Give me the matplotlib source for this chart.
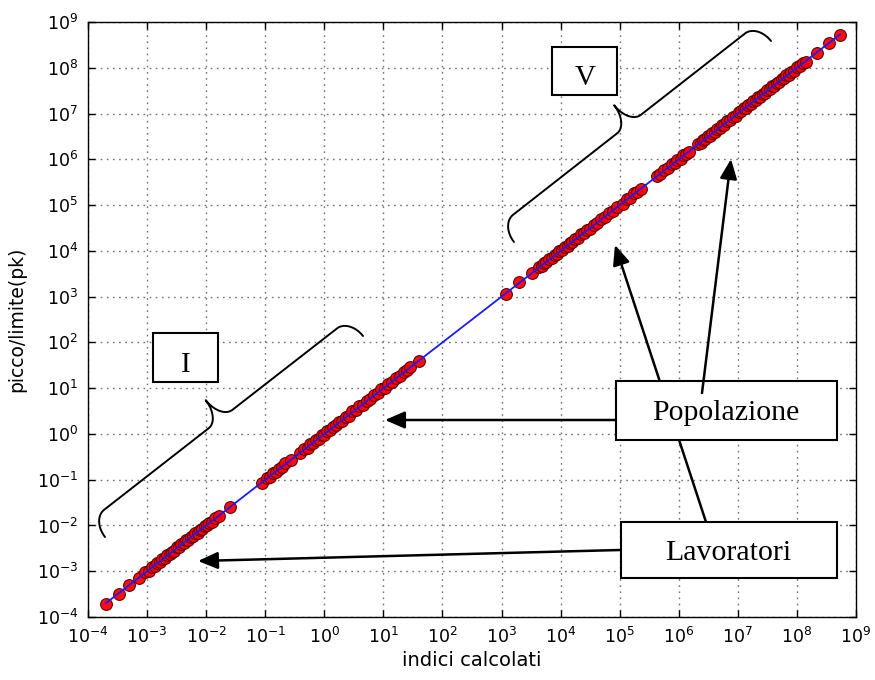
import numpy as np
import matplotlib
matplotlib.use("Agg")
import matplotlib.pyplot as plt
from matplotlib.lines import Line2D
from matplotlib.patches import Rectangle, FancyArrowPatch

# ---- data -------------------------------------------------------------
x_values = [
    # low group
    2.0e-4, 3.3e-4, 5.0e-4, 7.2e-4, 9.3e-4, 1.07e-3, 1.2e-3, 1.35e-3, 1.5e-3, 1.65e-3,
    1.8e-3, 2.0e-3, 2.2e-3, 2.4e-3, 2.6e-3, 2.9e-3, 3.2e-3, 3.5e-3, 3.8e-3, 4.2e-3,
    4.6e-3, 5.0e-3, 5.5e-3, 6.0e-3, 6.6e-3, 7.2e-3, 7.9e-3, 8.6e-3, 9.4e-3, 1.03e-2,
    1.12e-2, 1.25e-2, 1.4e-2, 1.62e-2, 2.57e-2,
    # middle group
    8.8e-2, 1.07e-1, 1.2e-1, 1.35e-1, 1.5e-1, 1.7e-1, 1.95e-1, 2.2e-1, 2.7e-1,
    3.9e-1, 4.5e-1, 5.2e-1, 5.8e-1, 6.5e-1, 7.2e-1, 8.0e-1, 9.0e-1,
    1.0, 1.12, 1.25, 1.4, 1.6, 1.8, 2.0, 2.3, 2.6, 3.0,
    3.4, 3.9, 4.5, 5.2, 6.0, 7.0, 8.0, 9.2,
    10.5, 12.0, 14.0, 16.5, 19.0, 22.0, 25.5, 28.5, 40.7,
    # upper group
    1.19e3, 2.0e3, 3.3e3, 4.27e3, 4.79e3, 5.25e3, 5.75e3, 6.31e3, 7.08e3, 7.94e3,
    8.71e3, 9.55e3, 1.07e4, 1.2e4, 1.32e4, 1.45e4, 1.58e4, 1.78e4, 2.0e4, 2.24e4,
    2.51e4, 2.82e4, 3.16e4, 3.63e4, 4.17e4, 4.79e4, 5.75e4, 6.61e4, 7.59e4, 8.91e4,
    1.12e5, 1.32e5, 1.51e5, 1.74e5, 2.0e5, 2.29e5,
    4.3e5, 4.9e5, 5.6e5, 6.6e5, 7.6e5, 8.5e5, 9.5e5, 1.07e6, 1.2e6, 1.35e6, 1.51e6,
    2.14e6, 2.34e6, 2.57e6, 2.82e6, 3.09e6, 3.39e6, 3.72e6, 4.07e6, 4.47e6, 4.90e6,
    5.37e6, 5.89e6, 6.61e6, 7.41e6, 8.32e6, 9.33e6, 1.05e7, 1.15e7, 1.26e7, 1.38e7,
    1.51e7, 1.66e7, 1.82e7, 2.0e7, 2.19e7, 2.40e7, 2.63e7, 2.88e7, 3.16e7, 3.47e7,
    3.80e7, 4.17e7, 4.57e7, 5.01e7, 5.50e7, 6.03e7, 6.61e7, 7.24e7, 7.94e7, 8.91e7,
    1.0e8, 1.12e8, 1.26e8, 1.41e8, 2.19e8, 3.55e8, 5.37e8,
]

y_values = [
    1.9e-4, 3.2e-4, 5.1e-4, 7.0e-4, 9.6e-4, 1.03e-3, 1.24e-3, 1.31e-3, 1.55e-3, 1.6e-3,
    1.86e-3, 1.95e-3, 2.27e-3, 2.33e-3, 2.68e-3, 2.82e-3, 3.3e-3, 3.4e-3, 3.92e-3, 4.1e-3,
    4.75e-3, 4.86e-3, 5.65e-3, 5.85e-3, 6.8e-3, 7.0e-3, 8.1e-3, 8.4e-3, 9.7e-3, 1.0e-2,
    1.15e-2, 1.22e-2, 1.44e-2, 1.58e-2, 2.5e-2,
    8.6e-2, 1.1e-1, 1.16e-1, 1.39e-1, 1.46e-1, 1.75e-1, 1.9e-1, 2.26e-1, 2.64e-1,
    3.8e-1, 4.6e-1, 5.05e-1, 6.0e-1, 6.3e-1, 7.4e-1, 7.8e-1, 9.3e-1,
    0.97, 1.16, 1.21, 1.45, 1.55, 1.86, 1.94, 2.37, 2.52, 3.1,
    3.3, 4.0, 4.37, 5.35, 5.8, 7.2, 7.75, 9.5,
    10.2, 12.4, 13.6, 17.0, 18.4, 22.7, 24.8, 29.3, 39.5,
    1.15e3, 2.05e3, 3.2e3, 4.4e3, 4.65e3, 5.4e3, 5.6e3, 6.5e3, 6.9e3, 8.2e3,
    8.45e3, 9.85e3, 1.04e4, 1.24e4, 1.28e4, 1.5e4, 1.53e4, 1.84e4, 1.94e4, 2.31e4,
    2.43e4, 2.91e4, 3.06e4, 3.75e4, 4.04e4, 4.95e4, 5.57e4, 6.83e4, 7.35e4, 9.2e4,
    1.08e5, 1.36e5, 1.46e5, 1.8e5, 1.94e5, 2.22e5,
    4.4e5, 4.75e5, 5.8e5, 6.4e5, 7.85e5, 8.25e5, 9.8e5, 1.04e6, 1.24e6, 1.31e6, 1.47e6,
    2.2e6, 2.27e6, 2.65e6, 2.74e6, 3.18e6, 3.29e6, 3.84e6, 3.95e6, 4.6e6, 4.76e6,
    5.53e6, 5.72e6, 6.8e6, 7.2e6, 8.55e6, 9.05e6, 1.08e7, 1.12e7, 1.3e7, 1.34e7,
    1.56e7, 1.61e7, 1.87e7, 1.94e7, 2.26e7, 2.33e7, 2.71e7, 2.8e7, 3.26e7, 3.37e7,
    3.92e7, 4.05e7, 4.71e7, 4.86e7, 5.67e7, 5.85e7, 6.8e7, 7.03e7, 8.18e7, 8.65e7,
    1.03e8, 1.09e8, 1.3e8, 1.37e8, 2.13e8, 3.45e8, 5.3e8,
]

tick_exponents = list(range(-4, 10))
x_label = "indici calcolati"
y_label = "picco/limite(pk)"
group_labels = ["I", "V"]
arrow_labels = ["Popolazione", "Lavoratori"]

# ---- figure -----------------------------------------------------------
W, H = 875, 680
fig = plt.figure(figsize=(W / 100, H / 100), dpi=100)
fig.patch.set_facecolor("white")
ax = fig.add_axes([88 / W, 1 - 617 / H, 768 / W, 595 / H])

x = np.array(x_values)
y = np.array(y_values)

ax.plot(x, y, linestyle="none", marker="o", markersize=8.5,
        markerfacecolor="#ff0000", markeredgecolor="#5a0000", markeredgewidth=0.8,
        alpha=0.95, zorder=2)

# straight-line fit in log-log space across the data range
slope, intercept = np.polyfit(np.log10(x), np.log10(y), 1)
fit_x = np.array([x.min(), x.max()])
fit_y = 10 ** (intercept + slope * np.log10(fit_x))
ax.plot(fit_x, fit_y, color="#1a1aff", linewidth=1.3, zorder=3)

ax.set_xscale("log")
ax.set_yscale("log")
ticks = [10.0 ** e for e in tick_exponents]
ax.set_xlim(ticks[0], ticks[-1])
ax.set_ylim(ticks[0], ticks[-1])
ax.set_xticks(ticks)
ax.set_yticks(ticks)
ax.minorticks_off()
ax.tick_params(which="major", direction="in", length=5, width=1,
               top=True, right=True, labelsize=12.5, pad=7)
ax.grid(True, which="major", linestyle=(0, (1.2, 3.2)), color="0.45", linewidth=1)
for s in ax.spines.values():
    s.set_linewidth(1.0)
    s.set_color("black")

ax.set_xlabel(x_label, fontsize=14)
ax.set_ylabel(y_label, fontsize=13.5)
ax.xaxis.set_label_coords(0.5, -0.057)
ax.yaxis.set_label_coords(-0.08, 0.5)


# ---- annotation helpers (pixel coordinates, y measured from top) ------
def fpt(px, py):
    return (px / W, 1 - py / H)


def brace(p0, p1, plateau=22, cusp=46, end_len=16, cusp_len=15, n=60):
    p0 = np.asarray(p0, float)
    p1 = np.asarray(p1, float)
    L = np.hypot(*(p1 - p0))
    a = (p1 - p0) / L
    nrm = np.array([a[1], -a[0]])          # side the tip points to
    t = np.linspace(0, np.pi / 2, n)
    u1 = end_len * (1 - np.cos(t))
    v1 = plateau * np.sin(t)
    u2 = np.array([end_len, L / 2 - cusp_len])
    v2 = np.array([plateau, plateau])
    u3 = L / 2 - cusp_len + cusp_len * np.sin(t)
    v3 = plateau + (cusp - plateau) * (1 - np.cos(t))
    uh = np.concatenate([u1, u2, u3])
    vh = np.concatenate([v1, v2, v3])
    u = np.concatenate([uh, (L - uh)[::-1]])
    v = np.concatenate([vh, vh[::-1]])
    pts = p0[None, :] + u[:, None] * a[None, :] + v[:, None] * nrm[None, :]
    fx = pts[:, 0] / W
    fy = 1 - pts[:, 1] / H
    fig.add_artist(Line2D(fx, fy, color="black", linewidth=1.4,
                          transform=fig.transFigure, zorder=4,
                          solid_capstyle="round"))


def box(x0, y0, x1, y1, label, cx, baseline, size=21, z=5):
    fx0, fy1 = fpt(x0, y1)
    rect = Rectangle((fx0, fy1), (x1 - x0) / W, (y1 - y0) / H,
                     transform=fig.transFigure, facecolor="white",
                     edgecolor="black", linewidth=1.5, zorder=z)
    fig.add_artist(rect)
    tx, ty = fpt(cx, baseline)
    fig.text(tx, ty, label, ha="center", va="baseline", fontsize=size,
             family=["Liberation Serif", "DejaVu Serif"], zorder=z + 0.5)


def arrow(tail, tip, z=4):
    ar = FancyArrowPatch(fpt(*tail), fpt(*tip), transform=fig.transFigure,
                         arrowstyle="-|>,head_length=0.6,head_width=0.26",
                         mutation_scale=20, linewidth=1.8, color="black",
                         shrinkA=0, shrinkB=0, zorder=z)
    fig.add_artist(ar)


# braces grouping the two ranges
brace((105, 537), (363, 336))
brace((514, 242), (771, 41))

# group tags
box(153, 333, 218, 382, group_labels[0], 186, 372, size=21)
box(552, 47, 617, 95, group_labels[1], 585, 85, size=21)

# arrows (one passes behind the upper label box)
arrow((706, 522), (615, 245), z=4)
arrow((620, 550), (198, 561), z=4)
arrow((616, 420), (385, 420), z=4)
box(616, 381, 837, 440, arrow_labels[0], 726, 420, size=21.5, z=5)
box(621, 522, 837, 578, arrow_labels[1], 728, 560, size=21.5, z=5)
arrow((702, 393), (731, 159), z=7)

fig.savefig("out.png", dpi=100, facecolor="white")
